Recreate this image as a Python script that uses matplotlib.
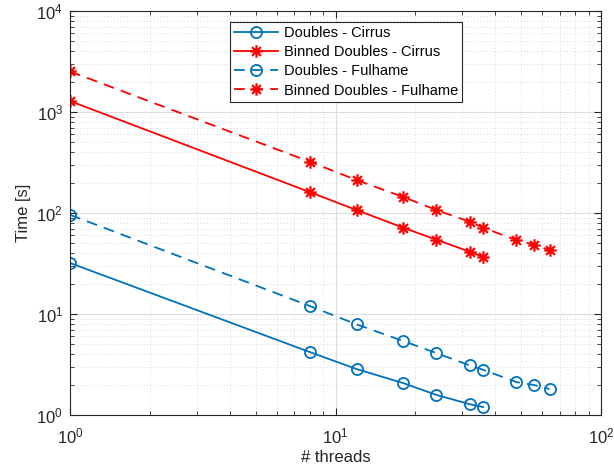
import matplotlib
matplotlib.use('Agg')
import matplotlib.pyplot as plt
from matplotlib.path import Path
import numpy as np

plt.rcParams['font.family'] = ['Liberation Sans', 'DejaVu Sans']
plt.rcParams['mathtext.fontset'] = 'custom'
plt.rcParams['mathtext.rm'] = 'Liberation Sans'

threads_cirrus = [1, 8, 12, 18, 24, 32, 36]
threads_fulhame = [1, 8, 12, 18, 24, 32, 36, 48, 56, 64]

doubles_cirrus = [32, 4.2, 2.85, 2.07, 1.58, 1.28, 1.2]
binned_cirrus = [1285, 161, 107, 71.5, 54.4, 41.4, 36.6]
doubles_fulhame = [96, 12, 7.9, 5.4, 4.1, 3.1, 2.8, 2.12, 1.98, 1.81]
binned_fulhame = [2520, 322, 212, 144, 107, 82, 71.5, 54, 48.5, 43]

blue = (0, 0.447, 0.741)
red = (1, 0, 0)
txt = '#262626'

# matlab style asterisk: plus and cross together
d = 0.7071
verts = [(-1, 0), (1, 0), (0, -1), (0, 1), (-d, -d), (d, d), (-d, d), (d, -d)]
codes = [Path.MOVETO, Path.LINETO] * 4
asterisk = Path(verts, codes)

fig = plt.figure(figsize=(6.14, 4.70), dpi=100)
ax = fig.add_axes([70/614, 55/470, 531/614, 404/470])

ax.loglog(threads_cirrus, doubles_cirrus, '-', marker='o', color=blue, lw=1.3, ms=8,
          mfc='none', mew=1.3, label='Doubles - Cirrus')
ax.loglog(threads_cirrus, binned_cirrus, '-', marker=asterisk, color=red, lw=1.3, ms=9,
          mew=1.6, label='Binned Doubles - Cirrus')
ax.loglog(threads_fulhame, doubles_fulhame, '--', marker='o', color=blue, lw=1.3, ms=8,
          mfc='none', mew=1.3, dashes=(6, 4), label='Doubles - Fulhame')
ax.loglog(threads_fulhame, binned_fulhame, '--', marker=asterisk, color=red, lw=1.3, ms=9,
          mew=1.6, dashes=(6, 4), label='Binned Doubles - Fulhame')

ax.set_xlim(1, 100)
ax.set_ylim(1, 1e4)
ax.grid(True, which='major', color='#dddddd', lw=0.8, ls='-')
ax.grid(True, which='minor', color='#cccccc', lw=0.6, ls=(0, (1, 3)))
ax.set_axisbelow(True)

ax.tick_params(which='both', direction='in', top=True, right=True, colors=txt,
               labelsize=12)
ax.tick_params(which='major', length=5)
ax.tick_params(which='minor', length=3)
ax.tick_params(axis='x', which='major', pad=8)
ax.tick_params(axis='y', which='major', pad=5)
for s in ax.spines.values():
    s.set_color(txt)
    s.set_linewidth(0.8)

ax.set_xlabel('# threads', fontsize=12, color=txt, labelpad=3)
ax.set_ylabel('Time [s]', fontsize=12, color=txt)

leg = ax.legend(loc='upper center', bbox_to_anchor=(0.52, 0.973), fontsize=10.5,
                fancybox=False, edgecolor=txt, framealpha=1, borderpad=0.3,
                labelspacing=0.35, handlelength=3.0, handletextpad=0.4,
                borderaxespad=0)
leg.get_frame().set_linewidth(0.8)

plt.savefig('out.png', dpi=100)
